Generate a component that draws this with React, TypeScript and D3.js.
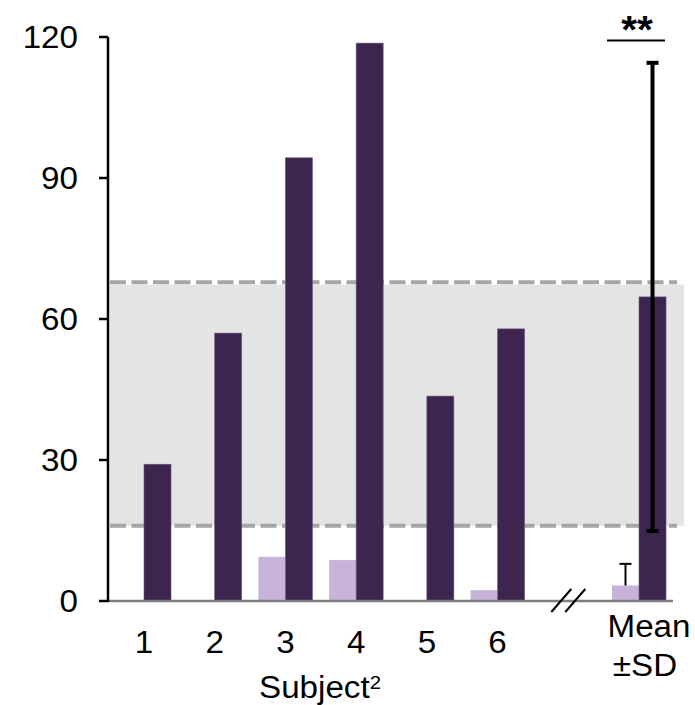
import { scaleBand, scaleLinear } from 'd3'

const width = 695
const height = 705
const margin = { top: 37, right: 20, bottom: 104, left: 108 }

// categories along the x axis; the empty one is the axis break
const categories = ['1', '2', '3', '4', '5', '6', '', 'Mean']
const lightValues = [0, 0, 9.4, 8.7, 0, 2.3, null, 3.3]
const darkValues = [29.1, 57, 94.3, 118.7, 43.6, 57.9, null, 64.7]
const lightSD = 4.6
const darkSD = 49.8
const yTicks = [0, 30, 60, 90, 120]
const refRange = [16, 67.3]

const font = '"Liberation Sans", Arial, sans-serif'
const darkColor = '#3d2550'
const lightColor = '#c8b3da'
const stretch = 1.07

function Label({ x, y, size = 31, anchor = 'middle', weight = 'normal', children }) {
  return (
    <text
      transform={`translate(${x},${y}) scale(${stretch},1)`}
      textAnchor={anchor}
      fontSize={size}
      fontWeight={weight}
      fontFamily={font}
      fill="#000"
    >
      {children}
    </text>
  )
}

function App() {
  const yScale = scaleLinear().domain([0, 120]).range([height - margin.bottom, margin.top])
  const xScale = scaleBand()
    .domain(categories.map((d, i) => `${i}`))
    .range([margin.left, 675])
    .paddingInner(0.236)
    .paddingOuter(0.127)
  const sub = scaleBand().domain(['light', 'dark']).range([0, xScale.bandwidth()])
  const bw = sub.bandwidth()
  const x0 = margin.left
  const x1 = xScale.range()[1]
  const y0 = yScale(0)

  const meanIdx = categories.length - 1
  const breakX = xScale('6') + xScale.bandwidth() / 2
  const meanLightX = xScale(`${meanIdx}`) + sub('light') + bw / 2
  const meanDarkX = xScale(`${meanIdx}`) + sub('dark') + bw / 2

  return (
    <svg width={width} height={height} style={{ position: 'absolute', left: 0, top: 0 }}>
      {/* reference band */}
      <rect
        x={x0 + 2}
        y={yScale(refRange[1])}
        width={x1 + 9 - x0 - 2}
        height={yScale(refRange[0]) - yScale(refRange[1])}
        fill="#e4e4e4"
      />
      {refRange.map((v) => (
        <line
          key={v}
          x1={x0 + 2}
          x2={x1 + 2}
          y1={yScale(v) - (v === refRange[1] ? 2.5 : 0)}
          y2={yScale(v) - (v === refRange[1] ? 2.5 : 0)}
          stroke="#a6a6a6"
          strokeWidth={4}
          strokeDasharray="16 5.5"
        />
      ))}

      {/* bars */}
      {categories.map((c, i) => {
        const gx = xScale(`${i}`)
        return (
          <g key={i}>
            {lightValues[i] != null && lightValues[i] > 0 && (
              <rect
                x={gx + sub('light')}
                y={yScale(lightValues[i])}
                width={bw}
                height={y0 - yScale(lightValues[i])}
                fill={lightColor}
              />
            )}
            {darkValues[i] != null && (
              <rect
                x={gx + sub('dark')}
                y={yScale(darkValues[i])}
                width={bw}
                height={y0 - yScale(darkValues[i])}
                fill={darkColor}
                stroke="#6b5a7e"
                strokeWidth={0.6}
              />
            )}
          </g>
        )
      })}

      {/* x baseline */}
      <line x1={x0} x2={x1 - 2} y1={y0} y2={y0} stroke="#7f7f7f" strokeWidth={2.5} />

      {/* axis break */}
      {[-7, 7].map((dx) => (
        <line
          key={dx}
          x1={breakX + dx - 10}
          x2={breakX + dx + 10}
          y1={y0 + 11}
          y2={y0 - 12}
          stroke="#000"
          strokeWidth={2}
        />
      ))}

      {/* y axis */}
      <line x1={x0} x2={x0} y1={yScale(120)} y2={y0 + 1} stroke="#000" strokeWidth={2.5} />
      {yTicks.map((t) => (
        <g key={t}>
          <line x1={x0 - 9} x2={x0} y1={yScale(t)} y2={yScale(t)} stroke="#000" strokeWidth={2.5} />
          <Label x={78} y={yScale(t) + 11} anchor="end">
            {t}
          </Label>
        </g>
      ))}

      {/* error bars */}
      <line
        x1={meanLightX}
        x2={meanLightX}
        y1={yScale(lightValues[meanIdx])}
        y2={yScale(lightValues[meanIdx] + lightSD)}
        stroke="#000"
        strokeWidth={2}
      />
      <line
        x1={meanLightX - 6}
        x2={meanLightX + 6}
        y1={yScale(lightValues[meanIdx] + lightSD)}
        y2={yScale(lightValues[meanIdx] + lightSD)}
        stroke="#000"
        strokeWidth={2}
      />
      <line
        x1={meanDarkX}
        x2={meanDarkX}
        y1={yScale(darkValues[meanIdx] - darkSD)}
        y2={yScale(darkValues[meanIdx] + darkSD)}
        stroke="#000"
        strokeWidth={4}
      />
      {[-darkSD, darkSD].map((d) => (
        <line
          key={d}
          x1={meanDarkX - 6}
          x2={meanDarkX + 6}
          y1={yScale(darkValues[meanIdx] + d)}
          y2={yScale(darkValues[meanIdx] + d)}
          stroke="#000"
          strokeWidth={4}
        />
      ))}

      {/* significance */}
      <line x1={607} x2={665} y1={40.5} y2={40.5} stroke="#000" strokeWidth={2.2} />
      <Label x={637} y={43} size={38} weight="bold">
        **
      </Label>

      {/* category labels */}
      {categories.slice(0, 6).map((c, i) => (
        <Label key={c} x={xScale(`${i}`) + xScale.bandwidth() / 2} y={653}>
          {c}
        </Label>
      ))}
      <Label x={649} y={637}>
        Mean
      </Label>
      <Label x={645} y={676}>
        ±SD
      </Label>
      <Label x={320} y={698}>
        Subject
        <tspan fontSize={19} dy={-9}>
          2
        </tspan>
      </Label>
    </svg>
  )
}

export default App
